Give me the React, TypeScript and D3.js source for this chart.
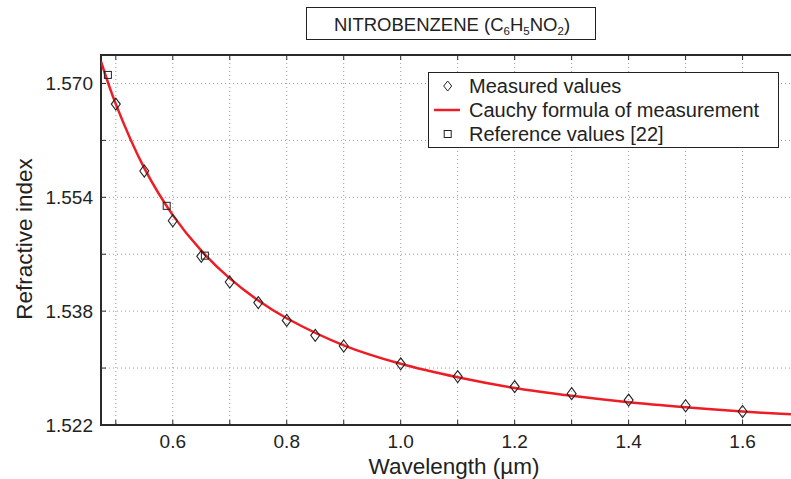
import React from "react";
import * as d3 from "d3";

// Measured values (wavelength µm, refractive index)
const measuredWavelength = [0.5, 0.55, 0.6, 0.65, 0.7, 0.75, 0.8, 0.85, 0.9, 1.0, 1.1, 1.2, 1.3, 1.4, 1.5, 1.6];
const measuredIndex = [1.5671, 1.5577, 1.5507, 1.5457, 1.5421, 1.5392, 1.5367, 1.5346, 1.5331, 1.5306, 1.5288, 1.5274, 1.5264, 1.5255, 1.5247, 1.5239];

// Reference values [22]
const referenceWavelength = [0.4861, 0.5893, 0.6563];
const referenceIndex = [1.5712, 1.5528, 1.5458];

// Cauchy formula curve
const cauchyWavelength = [0.474, 0.5, 0.55, 0.6, 0.65, 0.7, 0.75, 0.8, 0.9, 1.0, 1.1, 1.2, 1.3, 1.4, 1.5, 1.6, 1.685];
const cauchyIndex = [1.5731, 1.5671, 1.5581, 1.5515, 1.5465, 1.5426, 1.5395, 1.537, 1.5332, 1.5306, 1.5287, 1.5272, 1.5261, 1.5252, 1.5245, 1.5239, 1.5235];

const xTicks = [0.5, 0.6, 0.7, 0.8, 0.9, 1.0, 1.1, 1.2, 1.3, 1.4, 1.5, 1.6];
const xTickLabels = [0.6, 0.8, 1.0, 1.2, 1.4, 1.6];
const yTicks = [1.522, 1.53, 1.538, 1.546, 1.554, 1.562, 1.57];
const yTickLabels = [1.522, 1.538, 1.554, 1.57];

const legendLabels = ["Measured values", "Cauchy formula of measurement", "Reference values [22]"];

const W = 791;
const H = 479;
const FONT = "'Liberation Sans', Arial, Helvetica, sans-serif";

export default function App() {
  const left = 101, right = 791, top = 55, bottom = 425;
  const x = d3.scaleLinear().domain([0.474, 1.685]).range([left, right]);
  const y = d3.scaleLinear().domain([1.522, 1.574]).range([bottom, top]);

  const curvePts: [number, number][] = cauchyWavelength.map((w, i) => [w, cauchyIndex[i]]);
  const line = d3
    .line<[number, number]>()
    .x((d) => x(d[0]))
    .y((d) => y(d[1]))
    .curve(d3.curveCatmullRom);

  const diamond = (cx: number, cy: number, w = 4.5, h = 6) =>
    `M${cx},${cy - h}L${cx + w},${cy}L${cx},${cy + h}L${cx - w},${cy}Z`;

  const red = "#ee1c25";
  const axisColor = "#2a2a2a";
  const gridColor = "#9a9a9a";

  const lx = 447.7;
  const ly = [86, 110, 134];

  return (
    <svg
      width={W}
      height={H}
      style={{ position: "absolute", left: 0, top: 0, background: "#fff" }}
      fontFamily={FONT}
    >
      <rect x={0} y={0} width={W} height={H} fill="#fff" />
      <defs>
        <clipPath id="plot">
          <rect x={left} y={top} width={right - left} height={bottom - top} />
        </clipPath>
      </defs>

      {/* grid */}
      {xTicks.map((t) => (
        <line key={"gx" + t} x1={x(t)} x2={x(t)} y1={top} y2={bottom} stroke={gridColor} strokeWidth={1} strokeDasharray="1,3" />
      ))}
      {yTicks.filter((t) => t > 1.522).map((t) => (
        <line key={"gy" + t} x1={left} x2={right} y1={y(t)} y2={y(t)} stroke={gridColor} strokeWidth={1} strokeDasharray="1,3" />
      ))}

      {/* ticks */}
      {xTicks.map((t) => (
        <g key={"tx" + t}>
          <line x1={x(t)} x2={x(t)} y1={bottom} y2={bottom - 5} stroke={axisColor} strokeWidth={1} />
          <line x1={x(t)} x2={x(t)} y1={top} y2={top + 5} stroke={axisColor} strokeWidth={1} />
        </g>
      ))}
      {yTicks.map((t) => (
        <line key={"ty" + t} x1={left} x2={left + 5} y1={y(t)} y2={y(t)} stroke={axisColor} strokeWidth={1} />
      ))}

      {/* axes */}
      <line x1={left} x2={right} y1={bottom} y2={bottom} stroke={axisColor} strokeWidth={2} />
      <line x1={left} x2={right} y1={top} y2={top} stroke={axisColor} strokeWidth={2} />
      <line x1={left} x2={left} y1={top - 1} y2={bottom + 1} stroke={axisColor} strokeWidth={2} />

      {/* tick labels */}
      {xTickLabels.map((t) => (
        <text key={"lx" + t} x={x(t)} y={448} textAnchor="middle" fontSize={19} fill="#222">
          {d3.format(".1f")(t)}
        </text>
      ))}
      {yTickLabels.map((t) => (
        <text key={"ly" + t} x={93} y={y(t) + 7} textAnchor="end" fontSize={19} fill="#222">
          {d3.format(".3f")(t)}
        </text>
      ))}

      {/* axis titles */}
      <text x={454} y={474} textAnchor="middle" fontSize={22.5} fill="#222">
        Wavelength (µm)
      </text>
      <text transform={`translate(32,239) rotate(-90)`} textAnchor="middle" fontSize={22.5} fill="#222">
        Refractive index
      </text>

      {/* data */}
      <g clipPath="url(#plot)">
        <path d={line(curvePts) || ""} fill="none" stroke={red} strokeWidth={2.5} />
      </g>
      {measuredWavelength.map((w, i) => (
        <path key={"m" + i} d={diamond(x(w), y(measuredIndex[i]))} fill="none" stroke="#222" strokeWidth={1.1} />
      ))}
      {referenceWavelength.map((w, i) => (
        <rect
          key={"r" + i}
          x={x(w) - 3.5}
          y={y(referenceIndex[i]) - 3.5}
          width={7}
          height={7}
          fill="none"
          stroke="#222"
          strokeWidth={1}
        />
      ))}

      {/* legend */}
      <rect x={428.5} y={72.5} width={350} height={75} fill="#fff" stroke="#222" strokeWidth={1} />
      <path d={diamond(lx, ly[0], 4, 5)} fill="none" stroke="#222" strokeWidth={1} />
      <line x1={434} x2={460} y1={ly[1]} y2={ly[1]} stroke={red} strokeWidth={2.5} />
      <rect x={lx - 3.5} y={ly[2] - 3.5} width={7} height={7} fill="none" stroke="#222" strokeWidth={1} />
      {legendLabels.map((s, i) => (
        <text key={s} x={469} y={ly[i] + 7} fontSize={20} fill="#222">
          {s}
        </text>
      ))}

      {/* title */}
      <rect x={306.5} y={7.5} width={289} height={32} fill="#fff" stroke="#222" strokeWidth={1} />
      <text x={452} y={31} textAnchor="middle" fontSize={18.5} fill="#222">
        NITROBENZENE (C
        <tspan fontSize={11.5} dy={4}>6</tspan>
        <tspan dy={-4}>H</tspan>
        <tspan fontSize={11.5} dy={4}>5</tspan>
        <tspan dy={-4}>NO</tspan>
        <tspan fontSize={11.5} dy={4}>2</tspan>
        <tspan dy={-4}>)</tspan>
      </text>
    </svg>
  );
}
